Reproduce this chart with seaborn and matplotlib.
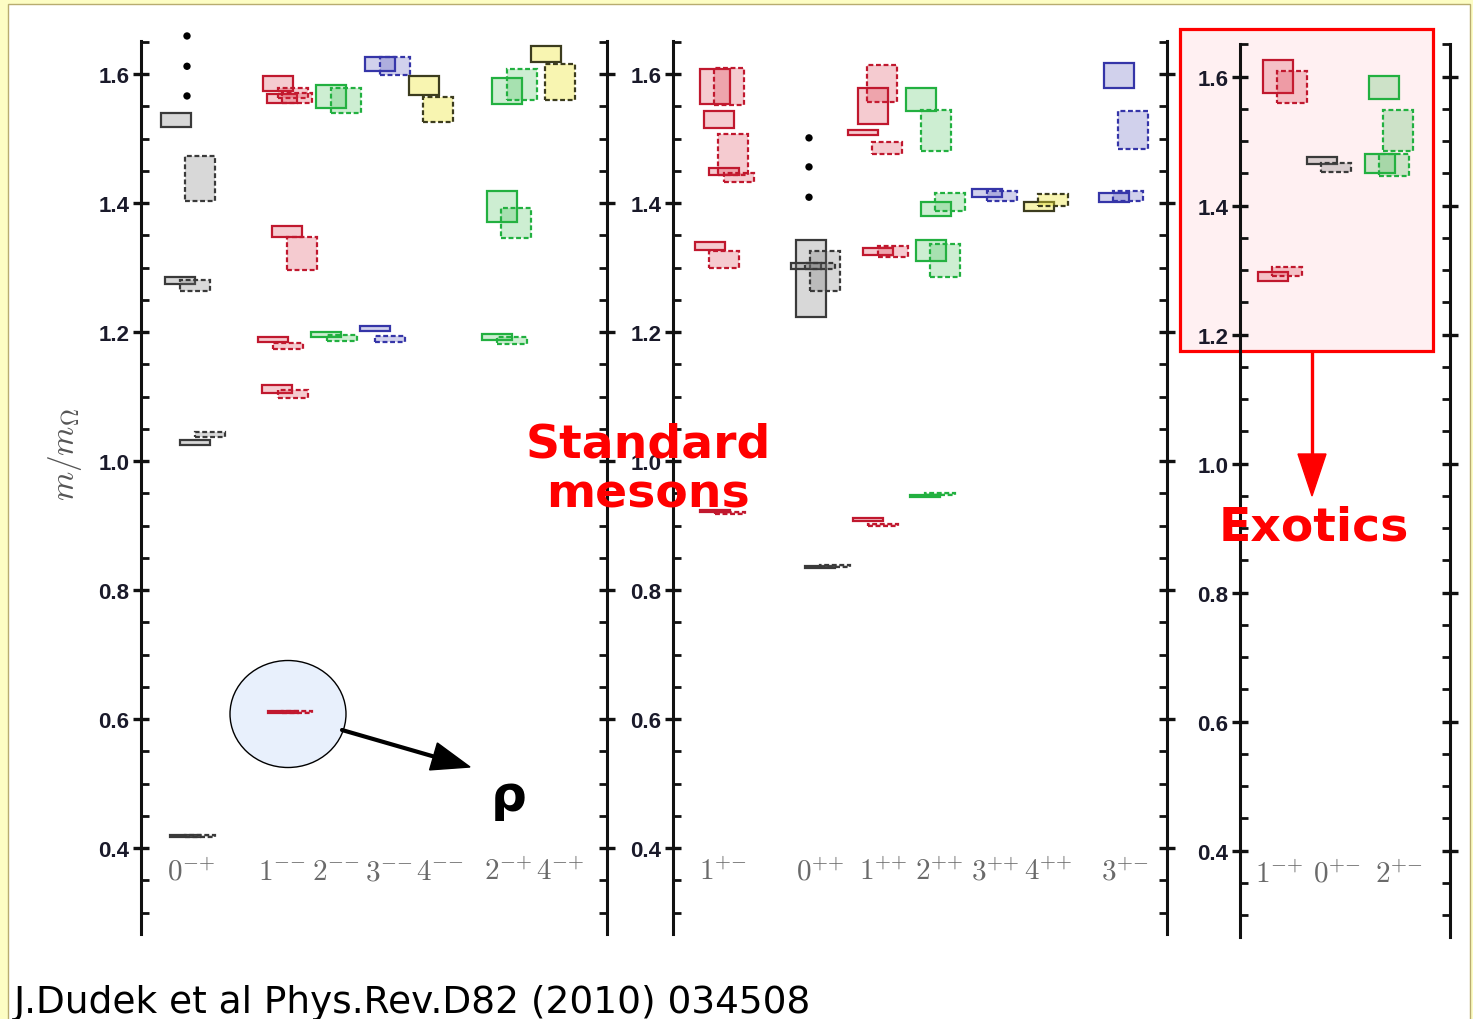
import numpy as np
import matplotlib
matplotlib.use('Agg')
import matplotlib.pyplot as plt
import seaborn as sns
from matplotlib.patches import Rectangle, Ellipse, Polygon
from matplotlib.ticker import MultipleLocator, FormatStrFormatter

# ---------------- data ----------------
panel_cats = [
    ['0-+', '1--', '2--', '3--', '4--', '2-+', '4-+'],
    ['1+-', '0++', '1++', '2++', '3++', '4++', '3+-'],
    ['1-+', '0+-', '2+-'],
]

# each state: J^PC channel, mass (m/m_Omega), error, lattice volume (16 = solid, 20 = dashed)
st_cat = ['0-+', '0-+', '0-+', '0-+', '0-+', '0-+', '0-+', '0-+',
          '1--', '1--', '1--', '1--', '1--', '1--', '1--', '1--', '1--', '1--', '1--', '1--',
          '2--', '2--', '2--', '2--',
          '3--', '3--', '3--', '3--',
          '4--', '4--',
          '2-+', '2-+', '2-+', '2-+', '2-+', '2-+',
          '4-+', '4-+',
          '1+-', '1+-', '1+-', '1+-', '1+-', '1+-', '1+-', '1+-', '1+-', '1+-',
          '0++', '0++', '0++', '0++', '0++', '0++',
          '1++', '1++', '1++', '1++', '1++', '1++', '1++', '1++',
          '2++', '2++', '2++', '2++', '2++', '2++', '2++', '2++',
          '3++', '3++',
          '4++', '4++',
          '3+-', '3+-', '3+-', '3+-',
          '1-+', '1-+', '1-+', '1-+',
          '0+-', '0+-',
          '2+-', '2+-', '2+-', '2+-']
st_mass = [1.529, 1.438, 1.280, 1.272, 1.029, 1.041, 0.419, 0.4185,
           1.585, 1.562, 1.571, 1.563, 1.356, 1.322, 1.188, 1.178, 1.112, 1.104, 0.611, 0.6105,
           1.565, 1.559, 1.196, 1.191,
           1.615, 1.613, 1.206, 1.189,
           1.582, 1.545,
           1.574, 1.584, 1.394, 1.369, 1.192, 1.187,
           1.631, 1.588,
           1.581, 1.581, 1.530, 1.475, 1.449, 1.440, 1.333, 1.312, 0.923, 0.919,
           1.283, 1.295, 1.302, 1.302, 0.836, 0.837,
           1.585, 1.551, 1.509, 1.485, 1.325, 1.325, 0.909, 0.901,
           1.560, 1.512, 1.391, 1.401, 1.326, 1.311, 0.946, 0.949,
           1.416, 1.411,
           1.395, 1.405,
           1.598, 1.513, 1.409, 1.411,
           1.600, 1.584, 1.290, 1.297,
           1.470, 1.459,
           1.583, 1.516, 1.465, 1.463]
st_err = [0.011, 0.035, 0.006, 0.008, 0.004, 0.004, 0.0012, 0.0012,
          0.012, 0.007, 0.008, 0.008, 0.009, 0.026, 0.004, 0.005, 0.006, 0.006, 0.0012, 0.0012,
          0.018, 0.020, 0.004, 0.005,
          0.011, 0.014, 0.004, 0.005,
          0.015, 0.020,
          0.020, 0.024, 0.024, 0.024, 0.005, 0.006,
          0.013, 0.028,
          0.027, 0.029, 0.013, 0.032, 0.006, 0.007, 0.006, 0.013, 0.0015, 0.0015,
          0.060, 0.031, 0.005, 0.005, 0.0015, 0.0015,
          0.029, 0.028, 0.004, 0.009, 0.006, 0.009, 0.002, 0.002,
          0.018, 0.032, 0.011, 0.014, 0.016, 0.026, 0.002, 0.002,
          0.006, 0.008,
          0.007, 0.009,
          0.019, 0.030, 0.007, 0.008,
          0.026, 0.025, 0.007, 0.007,
          0.005, 0.007,
          0.018, 0.032, 0.015, 0.017]
st_vol = [16, 20, 16, 20, 16, 20, 16, 20,
          16, 16, 20, 20, 16, 20, 16, 20, 16, 20, 16, 20,
          16, 20, 16, 20,
          16, 20, 16, 20,
          16, 20,
          16, 20, 16, 20, 16, 20,
          16, 20,
          16, 20, 16, 20, 16, 20, 16, 20, 16, 20,
          16, 20, 16, 20, 16, 20,
          20, 16, 16, 20, 16, 20, 16, 20,
          16, 20, 16, 20, 16, 20, 16, 20,
          16, 20,
          16, 20,
          16, 20, 16, 20,
          16, 20, 16, 20,
          16, 20,
          16, 20, 16, 20]

# "more states" dots
dot_cat = ['0-+', '0-+', '0-+', '0++', '0++', '0++']
dot_mass = [1.659, 1.612, 1.566, 1.501, 1.456, 1.409]

# ---------------- layout (not data) ----------------
W, H = 1473, 1020
cat_anchor = {'0-+': 191, '1--': 282, '2--': 336, '3--': 389, '4--': 440, '2-+': 508, '4-+': 560,
              '1+-': 723, '0++': 820, '1++': 883, '2++': 939, '3++': 995, '4++': 1048, '3+-': 1125,
              '1-+': 1279, '0+-': 1337, '2+-': 1399}
st_dx = [-30, -6, -26, -11, -11, 4, -21, -6,
         -19, -15, -4, 0, -10, 5, -24, -9, -20, -4, -14, 0,
         -20, -5, -25, -9,
         -24, -9, -29, -14,
         -31, -17,
         -16, -1, -21, -7, -26, -11,
         -29, -15,
         -23, -9, -19, -5, -14, 1, -28, -14, -23, -8,
         -24, -10, -29, -15, -15, 0,
         -16, -25, -35, -11, -20, -5, -30, -15,
         -33, -18, -18, -4, -23, -9, -29, -14,
         -23, -8,
         -24, -10,
         -21, -7, -26, -12,
         -16, -2, -21, -7,
         -30, -16,
         -30, -16, -34, -20]
dot_dx = [-4, -4, -4, -11, -11, -11]
box_w = 30

edge_col = {'0': '#3a3a3a', '1': '#c0182e', '2': '#22b040', '3': '#3535a8', '4': '#3c3c1e'}
face_col = {'0': (0.45, 0.45, 0.45, 0.28), '1': (0.85, 0.16, 0.24, 0.24),
            '2': (0.19, 0.72, 0.27, 0.24), '3': (0.25, 0.25, 0.70, 0.24),
            '4': (0.93, 0.90, 0.20, 0.38)}

panel_rect = [(141, 607, 935), (673, 1167, 935), (1240, 1450, 937.5)]
ylo, yhi = 0.26667, 1.6512


def jpc_label(c):
    sup = ''.join('{%s}' % ch for ch in c[1:])
    return r'$%s^{%s}$' % (c[0], sup)


# ---------------- figure ----------------
sns.set_style('white')
plt.rcParams['font.family'] = ['DejaVu Sans']
plt.rcParams['mathtext.fontset'] = 'cm'

fig = plt.figure(figsize=(W / 100, H / 100), dpi=100)
fig.patch.set_facecolor('#fdfdc4')

ax_bg = fig.add_axes([0, 0, 1, 1], zorder=-10)
ax_bg.set_xlim(0, W); ax_bg.set_ylim(H, 0); ax_bg.axis('off')
ax_bg.add_patch(Rectangle((8, 5), W - 11, H, facecolor='white', edgecolor='#b8ac70', lw=1))
ax_bg.add_patch(Rectangle((1180, 30), 253, 322, facecolor='#fff0f2', edgecolor='#ff0000', lw=2.3))
ax_bg.add_patch(Ellipse((288, 715), 116, 107, facecolor='#e8f0fc', edgecolor='black', lw=1))

axes = []
for (x0, x1, yb), cats in zip(panel_rect, panel_cats):
    ax = fig.add_axes([x0 / W, (H - yb) / H, (x1 - x0) / W, 893 / H])
    ax.set_facecolor('none')
    ax.set_xlim(x0, x1)
    ax.set_ylim(ylo, yhi)
    for s in ['top', 'bottom']:
        ax.spines[s].set_visible(False)
    for s in ['left', 'right']:
        ax.spines[s].set_visible(True)
        ax.spines[s].set_linewidth(2.2)
        ax.spines[s].set_color('#111111')
    ax.set_xticks([])
    ax.yaxis.set_major_locator(MultipleLocator(0.2))
    ax.yaxis.set_minor_locator(MultipleLocator(0.05))
    ax.yaxis.set_major_formatter(FormatStrFormatter('%.1f'))
    ax.tick_params(axis='y', which='major', direction='inout', length=11, width=2.4,
                   left=True, right=True, labelleft=True, labelright=False, pad=3,
                   labelsize=16, labelcolor='#1a1a2a', color='#111111')
    ax.tick_params(axis='y', which='minor', direction='in', length=6, width=2,
                   left=True, right=True, color='#111111')
    for lab in ax.get_yticklabels():
        lab.set_fontfamily('Liberation Sans')
        lab.set_fontweight('bold')
    # category labels
    for c in cats:
        ax.text(cat_anchor[c], 0.364, jpc_label(c), ha='center', va='center',
                fontsize=21, color='#6a6a6a')
    axes.append(ax)

panel_of = {c: i for i, cats in enumerate(panel_cats) for c in cats}

for c, m, e, v, dx in zip(st_cat, st_mass, st_err, st_vol, st_dx):
    ax = axes[panel_of[c]]
    ax.bar(cat_anchor[c] + dx, 2 * e, bottom=m - e, width=box_w, align='edge',
           facecolor=face_col[c[0]], edgecolor=edge_col[c[0]],
           linewidth=1.6, linestyle='-' if v == 16 else (0, (2.2, 1.2)), zorder=3)

for c, m, dx in zip(dot_cat, dot_mass, dot_dx):
    ax = axes[panel_of[c]]
    sns.scatterplot(x=[cat_anchor[c] + dx], y=[m], ax=ax, color='black', s=28,
                    edgecolor='none', zorder=4, legend=False, clip_on=False)

axes[0].set_ylabel(r'$m/m_\Omega$', fontsize=24, color='#555555')
axes[0].yaxis.set_label_coords((84 - 141) / 466, (935 - 455) / 893)

# ---------------- annotations ----------------
ax_fg = fig.add_axes([0, 0, 1, 1], zorder=10)
ax_fg.set_xlim(0, W); ax_fg.set_ylim(H, 0); ax_fg.axis('off')
ax_fg.patch.set_alpha(0)

ax_fg.text(648, 470, 'Standard\nmesons', ha='center', va='center', fontsize=34,
           fontweight='bold', color='#ff0000', linespacing=1.12)
ax_fg.text(1314, 528, 'Exotics', ha='center', va='center', fontsize=34,
           fontweight='bold', color='#ff0000')
ax_fg.text(509, 797, 'ρ', ha='center', va='center', fontsize=36, fontweight='bold', color='black')
ax_fg.text(14, 1003, 'J.Dudek et al Phys.Rev.D82 (2010) 034508', ha='left', va='center',
           fontsize=27, color='black')

# red arrow
ax_fg.plot([1312, 1312], [352, 460], color='#ff0000', lw=2.4, solid_capstyle='butt')
ax_fg.add_patch(Polygon([(1298, 455), (1326, 455), (1312, 497)], closed=True, color='#ff0000'))
# black arrow
tip = np.array([470.0, 768.0]); start = np.array([342.0, 731.0])
u = (tip - start) / np.linalg.norm(tip - start)
perp = np.array([-u[1], u[0]])
base = tip - 38 * u
ax_fg.plot([start[0], base[0] + 4 * u[0]], [start[1], base[1] + 4 * u[1]], color='black', lw=3)
ax_fg.add_patch(Polygon([tip, base + 14 * perp, base - 14 * perp], closed=True, color='black'))

fig.savefig('out.png', dpi=100)
